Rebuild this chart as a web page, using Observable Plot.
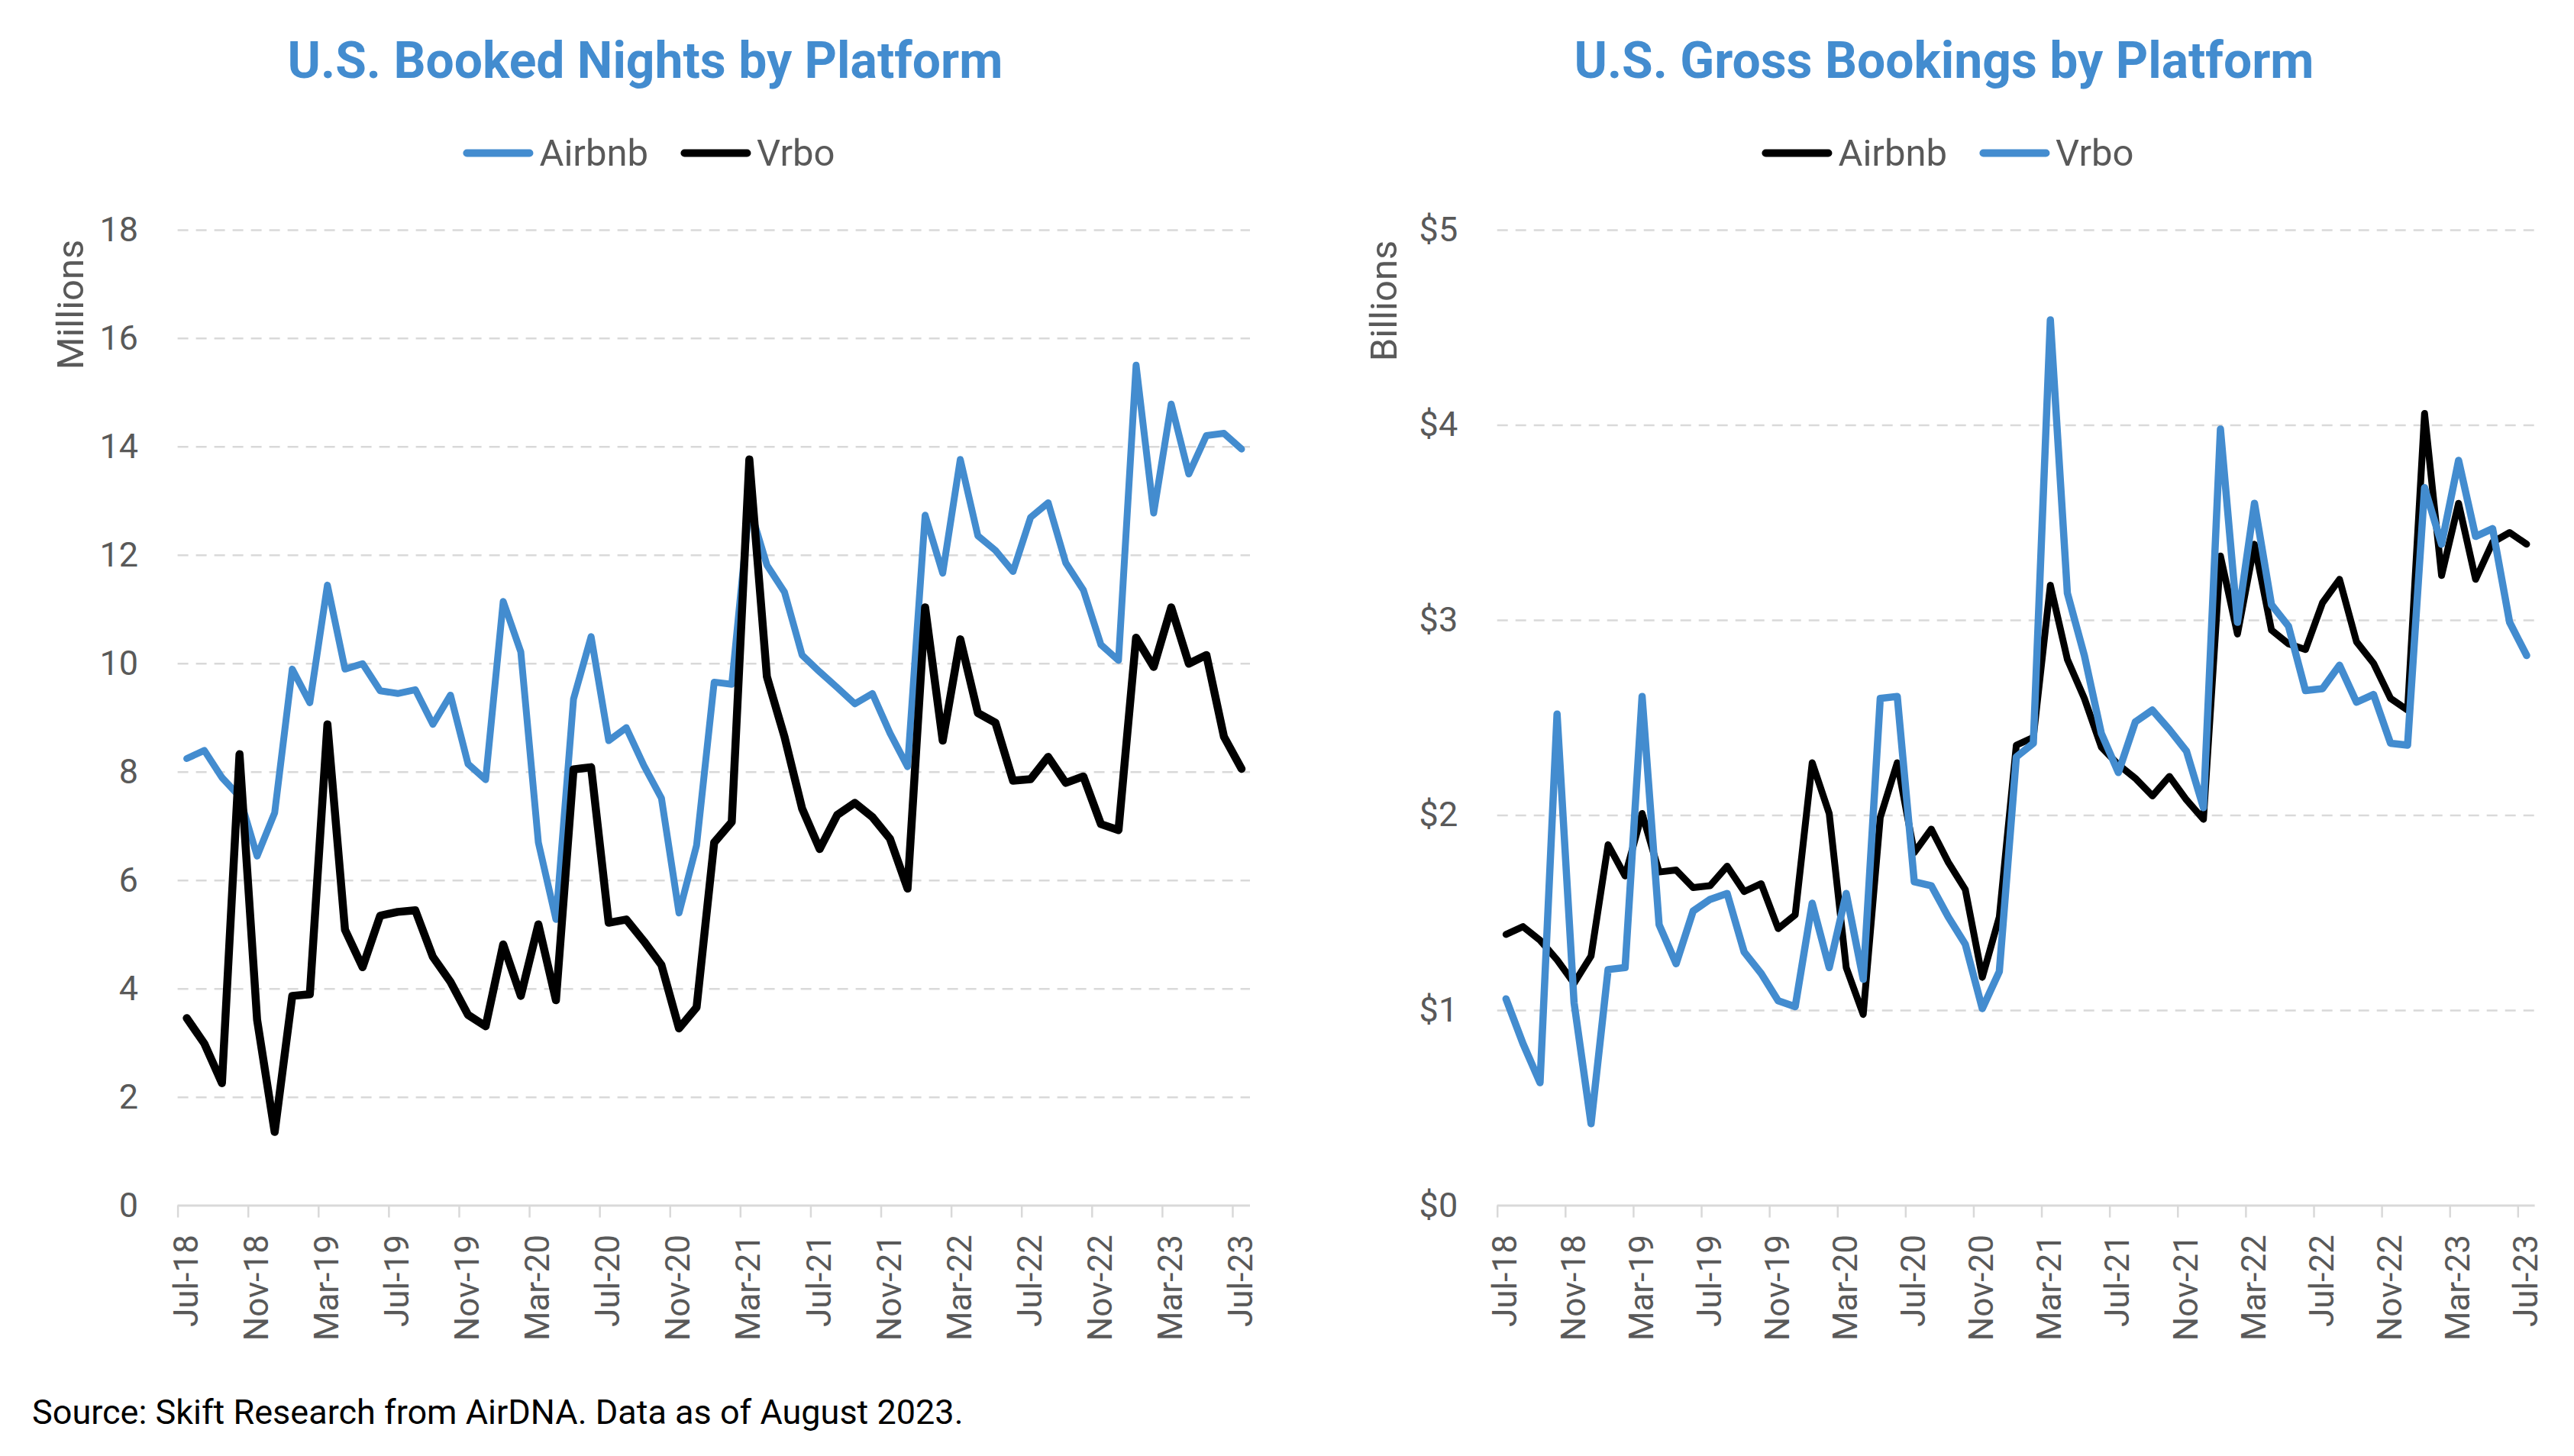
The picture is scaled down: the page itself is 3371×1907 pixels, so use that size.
<!DOCTYPE html>
<html>
<head>
<meta charset="utf-8">
<script src="https://cdn.jsdelivr.net/npm/d3@7"></script>
<script src="https://cdn.jsdelivr.net/npm/@observablehq/plot@0.6"></script>
<style>
  html, body { margin: 0; padding: 0; background: #ffffff; }
  body { width: 3371px; height: 1907px; position: relative; overflow: hidden; font-family: Roboto, "Noto Sans", sans-serif; }
  .abs { position: absolute; }
  .title { font-weight: 700; color: #438ccf; font-size: 66px; line-height: 1; white-space: nowrap; transform: translateX(-50%); }
  .legend { display: flex; align-items: center; transform: translate(-50%, -50%); white-space: nowrap; font-size: 49px; color: #595959; line-height: 1; }
  .legend .sw { display: inline-block; width: 92px; height: 10px; border-radius: 5px; margin-right: 8px; }
  .legend .item { display: flex; align-items: center; margin-right: 42px; }
  .legend .item:last-child { margin-right: 0; }
  .ylab { font-size: 49px; color: #595959; line-height: 1; white-space: nowrap; transform: translate(-50%, -50%) rotate(-90deg); }
  .source { font-size: 45px; color: #000000; line-height: 1; white-space: nowrap; }
</style>
</head>
<body>
<div id="root"></div>
<script>
// ---------- DATA ----------
const months = [
  "Jul-18","Aug-18","Sep-18","Oct-18","Nov-18","Dec-18",
  "Jan-19","Feb-19","Mar-19","Apr-19","May-19","Jun-19","Jul-19","Aug-19","Sep-19","Oct-19","Nov-19","Dec-19",
  "Jan-20","Feb-20","Mar-20","Apr-20","May-20","Jun-20","Jul-20","Aug-20","Sep-20","Oct-20","Nov-20","Dec-20",
  "Jan-21","Feb-21","Mar-21","Apr-21","May-21","Jun-21","Jul-21","Aug-21","Sep-21","Oct-21","Nov-21","Dec-21",
  "Jan-22","Feb-22","Mar-22","Apr-22","May-22","Jun-22","Jul-22","Aug-22","Sep-22","Oct-22","Nov-22","Dec-22",
  "Jan-23","Feb-23","Mar-23","Apr-23","May-23","Jun-23","Jul-23"
];
const tickLabels = ["Jul-18","Nov-18","Mar-19","Jul-19","Nov-19","Mar-20","Jul-20","Nov-20","Mar-21","Jul-21","Nov-21","Mar-22","Jul-22","Nov-22","Mar-23","Jul-23"];

// U.S. Booked Nights (millions)
const nightsAirbnb = [
  8.25, 8.40, 7.90, 7.55, 6.45, 7.25, 9.90, 9.28, 11.45, 9.90,
  10.00, 9.50, 9.45, 9.52, 8.88, 9.42, 8.15, 7.86, 11.15, 10.22,
  6.70, 5.28, 9.35, 10.50, 8.58, 8.82, 8.12, 7.52, 5.40, 6.65,
  9.66, 9.62, 12.90, 11.82, 11.32, 10.16, 9.85, 9.56, 9.26, 9.45,
  8.72, 8.10, 12.74, 11.67, 13.77, 12.36, 12.09, 11.70, 12.70, 12.97,
  11.86, 11.36, 10.35, 10.06, 15.51, 12.78, 14.79, 13.50, 14.21, 14.25,
  13.96
];
const nightsVrbo = [
  3.46, 2.99, 2.26, 8.33, 3.43, 1.36, 3.87, 3.90, 8.88, 5.09,
  4.40, 5.35, 5.42, 5.45, 4.59, 4.13, 3.52, 3.31, 4.82, 3.87,
  5.19, 3.79, 8.05, 8.09, 5.22, 5.28, 4.88, 4.44, 3.27, 3.66,
  6.70, 7.08, 13.77, 9.76, 8.65, 7.33, 6.58, 7.21, 7.43, 7.17,
  6.77, 5.85, 11.04, 8.58, 10.45, 9.09, 8.91, 7.84, 7.87, 8.28,
  7.80, 7.92, 7.04, 6.93, 10.48, 9.94, 11.04, 10.00, 10.16, 8.65,
  8.06
];

// U.S. Gross Bookings ($ billions)
const gbAirbnb = [
  1.39, 1.43, 1.36, 1.26, 1.14, 1.28, 1.85, 1.69, 2.01, 1.71,
  1.72, 1.63, 1.64, 1.74, 1.61, 1.65, 1.42, 1.49, 2.27, 2.01,
  1.22, 0.98, 1.99, 2.27, 1.81, 1.93, 1.76, 1.62, 1.17, 1.48,
  2.36, 2.40, 3.18, 2.80, 2.60, 2.35, 2.26, 2.19, 2.10, 2.20,
  2.08, 1.98, 3.33, 2.93, 3.39, 2.95, 2.88, 2.85, 3.09, 3.21,
  2.89, 2.78, 2.60, 2.54, 4.06, 3.23, 3.60, 3.21, 3.40, 3.45,
  3.39
];
const gbVrbo = [
  1.06, 0.83, 0.63, 2.52, 1.04, 0.42, 1.21, 1.22, 2.61, 1.44,
  1.24, 1.51, 1.57, 1.60, 1.30, 1.19, 1.05, 1.02, 1.55, 1.22,
  1.60, 1.16, 2.60, 2.61, 1.66, 1.64, 1.48, 1.34, 1.01, 1.20,
  2.30, 2.37, 4.54, 3.14, 2.82, 2.42, 2.22, 2.48, 2.54, 2.44,
  2.33, 2.04, 3.98, 2.99, 3.60, 3.08, 2.97, 2.64, 2.65, 2.77,
  2.58, 2.62, 2.37, 2.36, 3.68, 3.39, 3.82, 3.43, 3.47, 2.99,
  2.82
];

const nightsTicks = [0, 2, 4, 6, 8, 10, 12, 14, 16, 18];
const gbTicks = [0, 1, 2, 3, 4, 5];

const BLUE = "#438ccf";
const BLACK = "#000000";
const GRID = "#d9d9d9";
const TEXT = "#595959";

// ---------- HELPERS ----------
const root = document.getElementById("root");
function addDiv(cls, html, style) {
  const d = document.createElement("div");
  d.className = "abs " + cls;
  d.innerHTML = html;
  Object.assign(d.style, style);
  root.appendChild(d);
  return d;
}
function legend(items, cx, cy) {
  const html = items.map(([name, color]) =>
    `<span class="item"><span class="sw" style="background:${color}"></span><span>${name}</span></span>`).join("");
  addDiv("legend", html, {left: cx + "px", top: cy + "px"});
}

const monthIdx = months.map((m, i) => i);
const boundaryTicks = tickLabels.map(l => months.indexOf(l));        // category boundaries
const labelTicks = boundaryTicks.map(i => i + 0.5);                    // category centres

function chart({series, yDomain, yTicks, yFormat, width, height, mLeft, mRight, mTop, mBottom}) {
  const marks = [
    Plot.gridY(yTicks.filter(d => d !== 0), {stroke: GRID, strokeOpacity: 1, strokeWidth: 2.5, strokeDasharray: "14,10"}),
    Plot.ruleY([yDomain[0]], {stroke: GRID, strokeWidth: 3}),
    Plot.axisX({ticks: boundaryTicks, tickSize: 16, stroke: GRID, strokeWidth: 2.5, tickFormat: () => "", label: null}),
    Plot.axisX({ticks: labelTicks, tickSize: 0, tickPadding: 38, tickRotate: -90, color: TEXT, fontSize: 44,
                tickFormat: d => months[Math.floor(d)], label: null}),
    Plot.axisY({ticks: yTicks, tickSize: 0, tickPadding: 52, color: TEXT, fontSize: 45, tickFormat: yFormat, label: null})
  ];
  for (const s of series) {
    const rows = monthIdx.map(i => ({x: i + 0.5, v: s.values[i]}));
    marks.push(Plot.lineY(rows, {x: "x", y: "v", stroke: s.color, strokeWidth: s.width,
      strokeLinejoin: "round", strokeLinecap: "round"}));
  }
  return Plot.plot({
    width, height,
    marginLeft: mLeft, marginRight: mRight, marginTop: mTop, marginBottom: mBottom,
    x: {type: "linear", domain: [0, months.length]},
    y: {domain: yDomain},
    style: {fontFamily: "Roboto, 'Noto Sans', sans-serif", background: "transparent", overflow: "visible"},
    marks
  });
}

// ---------- LEFT CHART ----------
addDiv("title", "U.S. Booked Nights by Platform", {left: "845px", top: "47px"});
legend([["Airbnb", BLUE], ["Vrbo", BLACK]], 850, 200);
addDiv("ylab", "Millions", {left: "92px", top: "399px"});
const left = chart({
  series: [{values: nightsAirbnb, color: BLUE, width: 9}, {values: nightsVrbo, color: BLACK, width: 10.5}],
  yDomain: [0, 18], yTicks: nightsTicks, yFormat: d => String(d),
  width: 1680, height: 1560, mLeft: 232.6, mRight: 43, mTop: 50.9, mBottom: 231.4
});
const lw = document.createElement("div");
lw.className = "abs"; lw.style.left = "0px"; lw.style.top = "250px";
lw.appendChild(left); root.appendChild(lw);

// ---------- RIGHT CHART ----------
addDiv("title", "U.S. Gross Bookings by Platform", {left: "2546px", top: "47px"});
legend([["Airbnb", BLACK], ["Vrbo", BLUE]], 2551, 200);
addDiv("ylab", "Billions", {left: "1812px", top: "394px"});
const right = chart({
  series: [{values: gbAirbnb, color: BLACK, width: 9}, {values: gbVrbo, color: BLUE, width: 9.5}],
  yDomain: [0, 5], yTicks: gbTicks, yFormat: d => "$" + d,
  width: 1671, height: 1560, mLeft: 260.7, mRight: 51.4, mTop: 50.9, mBottom: 231.4
});
const rw = document.createElement("div");
rw.className = "abs"; rw.style.left = "1700px"; rw.style.top = "250px";
rw.appendChild(right); root.appendChild(rw);

// ---------- SOURCE ----------
addDiv("source", "Source: Skift Research from AirDNA. Data as of August 2023.", {left: "42px", top: "1827px"});
</script>
</body>
</html>
